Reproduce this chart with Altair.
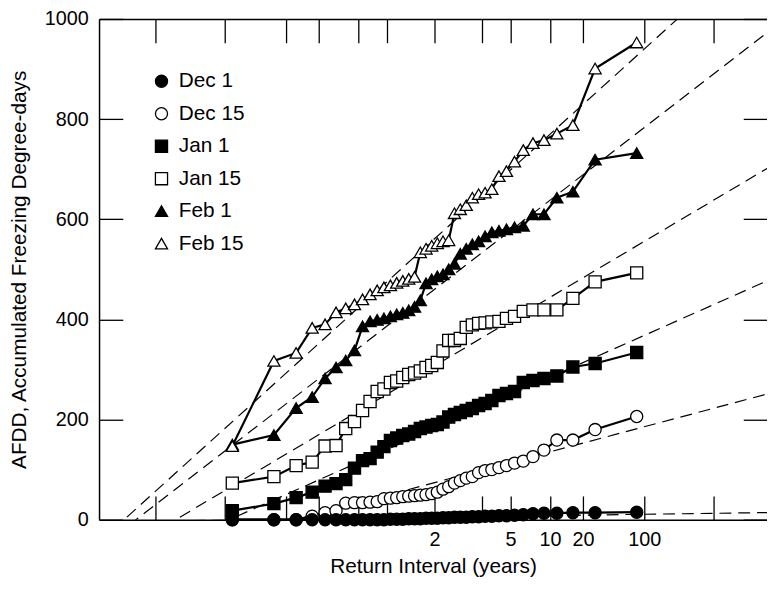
import altair as alt
import pandas as pd
from statistics import NormalDist

# ---------------- data ----------------
series_names = ["Dec 1", "Dec 15", "Jan 1", "Jan 15", "Feb 1", "Feb 15"]
draw_order = ["Dec 15", "Dec 1", "Jan 1", "Jan 15", "Feb 1", "Feb 15"]

# plotting positions (non-exceedance probability) of the 40 ranked winters
plot_prob = [0.0125, 0.0375, 0.0625, 0.0875, 0.1125, 0.1375, 0.1625, 0.1875, 0.2125, 0.2375,
             0.2625, 0.2875, 0.3125, 0.3375, 0.3625, 0.3875, 0.4125, 0.4375, 0.4625, 0.4875,
             0.5125, 0.5375, 0.5625, 0.5875, 0.6125, 0.6375, 0.6625, 0.6875, 0.7125, 0.7375,
             0.7625, 0.7875, 0.8125, 0.8375, 0.8625, 0.8875, 0.9125, 0.9375, 0.9625, 0.9875]

dec1 = [0, 0, 0, 0, 0, 0, 0, 0, 0, 0, 0, 0, 1, 1, 1, 2, 2, 2, 3, 3,
        3, 4, 4, 5, 5, 5, 6, 6, 7, 7, 8, 8, 9, 10, 12, 13, 13, 14, 14, 15]
dec15 = [0, 0, 0, 7, 14, 18, 33, 34, 34, 35, 36, 42, 43, 44, 46, 47, 48, 49, 50, 52,
         55, 61, 66, 73, 78, 83, 86, 94, 98, 100, 104, 108, 113, 117, 126, 139, 159, 159, 180, 206]
jan1 = [18, 32, 44, 55, 67, 72, 80, 103, 118, 122, 135, 146, 158, 163, 168, 171, 176, 182, 185, 188,
        190, 195, 205, 210, 214, 218, 222, 228, 232, 238, 248, 252, 256, 274, 278, 282, 287, 305, 312, 334]
jan15 = [73, 86, 108, 115, 147, 148, 182, 196, 218, 236, 256, 261, 274, 277, 284, 290, 293, 297, 304, 308,
         314, 337, 358, 358, 362, 384, 389, 392, 393, 395, 396, 402, 406, 416, 419, 419, 419, 442, 475, 493]
feb1 = [150, 169, 223, 245, 282, 304, 318, 338, 386, 396, 399, 402, 406, 410, 413, 418, 425, 438, 472, 480,
        486, 490, 500, 511, 531, 541, 550, 556, 566, 574, 577, 580, 584, 587, 610, 610, 643, 655, 719, 732]
feb15 = [147, 317, 333, 383, 390, 414, 422, 430, 440, 450, 458, 464, 468, 473, 477, 481, 485, 534, 541, 547,
         552, 556, 558, 612, 620, 628, 643, 650, 653, 660, 686, 696, 715, 738, 752, 758, 771, 788, 901, 953]

# fitted normal lines: AFDD = mean + sd * z
fit_mean = [5, 74, 182, 307, 460, 561]
fit_sd = [2.5, 48, 80, 107, 139, 163]

tick_prob = [0.001, 0.01, 0.05, 0.1, 0.2, 0.3, 0.5, 0.7, 0.8, 0.9, 0.95, 0.99, 0.999]
label_prob = [0.5, 0.8, 0.9, 0.95, 0.99]
label_text = ["2", "5", "10", "20", "100"]
y_ticks = [0, 200, 400, 600, 800, 1000]
x_domain = [-3.719, 3.686]   # normal quantiles at the frame edges

# ---------------- tables ----------------
nd = NormalDist()
values = {"Dec 1": dec1, "Dec 15": dec15, "Jan 1": jan1, "Jan 15": jan15,
          "Feb 1": feb1, "Feb 15": feb15}
rows = []
for s in draw_order:
    for p, v in zip(plot_prob, values[s]):
        rows.append({"series": s, "z": nd.inv_cdf(p), "afdd": v})
pts = pd.DataFrame(rows)

fit_rows = []
for s, m, sd in zip(series_names, fit_mean, fit_sd):
    for z in x_domain:
        fit_rows.append({"series": s, "z": z, "afdd": m + sd * z})
fits = pd.DataFrame(fit_rows)

tick_z = [nd.inv_cdf(p) for p in tick_prob]
label_z = [nd.inv_cdf(p) for p in label_prob]
expr = "''"
for z, t in reversed(list(zip(label_z, label_text))):
    expr = f"abs(datum.value - ({z:.6f})) < 0.001 ? '{t}' : ({expr})"

W, H = 675, 506
xs = alt.Scale(domain=x_domain, nice=False, zero=False)
ys = alt.Scale(domain=[0, 1000], nice=False, zero=False)

# ---------------- layers ----------------
lines = alt.Chart(pts).mark_line(color="black", strokeWidth=2.2).encode(
    x=alt.X("z:Q", scale=xs, axis=alt.Axis(
        orient="bottom", values=label_z, labelExpr=expr, ticks=False, tickSize=0,
        domain=True, labelPadding=10, title="Return Interval (years)", titlePadding=6,
        labelOverlap=False, labelFlush=False)),
    y=alt.Y("afdd:Q", scale=ys, axis=alt.Axis(
        orient="left", values=y_ticks, format="d", ticks=False, tickSize=0, domain=True,
        labelPadding=11, title="AFDD, Accumulated Freezing Degree-days", titlePadding=15)),
    detail="series:N",
)

dashed = alt.Chart(fits).mark_line(color="black", strokeWidth=1.2, strokeDash=[12, 7], clip=True).encode(
    x=alt.X("z:Q", scale=xs, axis=None),
    y=alt.Y("afdd:Q", scale=ys, axis=None),
    detail="series:N",
)

legend_spec = dict(title=None, orient="none", legendX=52.6, legendY=52.5,
                   symbolStrokeColor="black", symbolStrokeWidth=1.3)

points = alt.Chart(pts).mark_point(filled=True, strokeWidth=1.3, size=150, opacity=1).encode(
    x=alt.X("z:Q", scale=xs, axis=None),
    y=alt.Y("afdd:Q", scale=ys, axis=None),
    fill=alt.Fill("series:N", scale=alt.Scale(domain=series_names,
                  range=["black", "white", "black", "white", "black", "white"]),
                  legend=alt.Legend(**legend_spec)),
    stroke=alt.Stroke("series:N", scale=alt.Scale(domain=series_names, range=["black"] * 6),
                      legend=alt.Legend(**legend_spec)),
    shape=alt.Shape("series:N", scale=alt.Scale(domain=series_names,
                    range=["circle", "circle", "square", "square", "triangle-up", "triangle-up"]),
                    legend=alt.Legend(**legend_spec)),
)

ticks_a = alt.Chart(pts).mark_point(opacity=0).encode(
    x=alt.X("z:Q", scale=xs, axis=alt.Axis(orient="top", offset=-H, values=tick_z, labels=False,
            domain=False, ticks=True, tickSize=24, title=None)),
    y=alt.Y("afdd:Q", scale=ys, axis=alt.Axis(orient="right", offset=-W, values=y_ticks, labels=False,
            domain=False, ticks=True, tickSize=24, title=None)),
)
ticks_b = alt.Chart(pts).mark_point(opacity=0).encode(
    x=alt.X("z:Q", scale=xs, axis=alt.Axis(orient="bottom", offset=-H, values=tick_z, labels=False,
            domain=True, ticks=True, tickSize=24, title=None)),
    y=alt.Y("afdd:Q", scale=ys, axis=alt.Axis(orient="left", offset=-W, values=y_ticks, labels=False,
            domain=False, ticks=True, tickSize=24, title=None)),
)

chart = alt.layer(ticks_a, ticks_b, dashed, lines, points).resolve_axis(
    x="independent", y="independent"
).properties(
    width=W, height=H,
    autosize=alt.AutoSizeParams(type="none"),
    padding={"left": 92, "top": 8, "right": 0, "bottom": 70},
).configure_view(stroke=None).configure_axis(
    grid=False, labelFont="Liberation Sans", titleFont="Liberation Sans",
    labelFontSize=20, titleFontSize=21, titleFontWeight="normal",
    labelColor="black", titleColor="black", domainColor="black", tickColor="black",
    domainWidth=1.5, tickWidth=1.3,
).configure_legend(
    labelFont="Liberation Sans", labelFontSize=21, labelColor="black",
    symbolSize=150, symbolStrokeColor="black", symbolStrokeWidth=1.3,
    padding=0, rowPadding=10.8, labelOffset=7,
)

chart.save("out.html", embed_options={"renderer": "svg", "actions": False})
